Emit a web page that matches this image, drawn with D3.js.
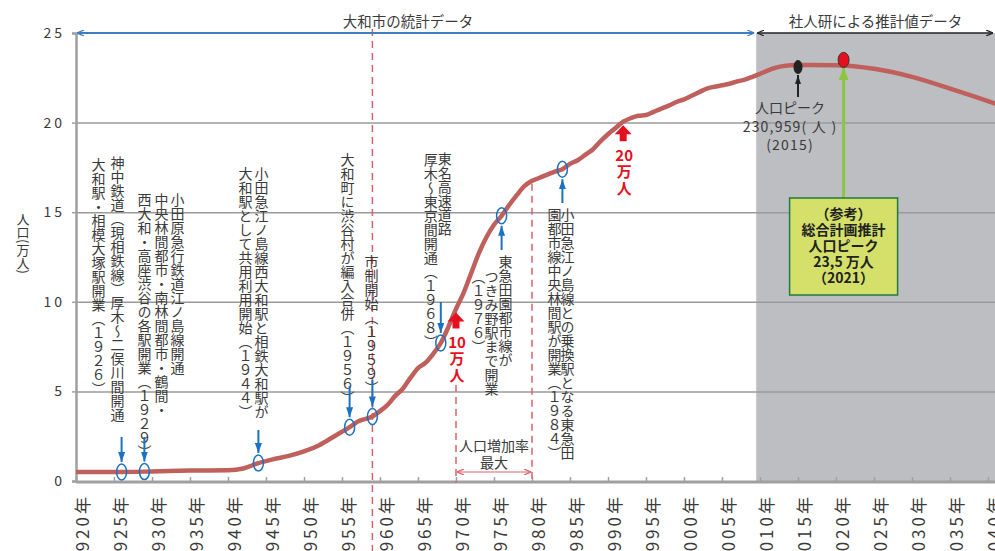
<!DOCTYPE html>
<html>
<head>
<meta charset="utf-8">
<script src="https://cdn.jsdelivr.net/npm/d3@7"></script>
<style>
  html, body { margin: 0; padding: 0; background: #fff; }
  svg { display: block; font-family: "Noto Sans CJK JP", "Noto Sans", sans-serif; }
  .vtext { writing-mode: vertical-rl; text-orientation: mixed; }
</style>
</head>
<body>
<svg id="chart" width="995" height="551"></svg>
<script>
// ---- Population of Yamato city (unit: 10,000 people) ----
const years = [1920, 1925, 1930, 1935, 1940, 1942, 1944, 1946, 1948, 1950, 1952, 1954, 1956, 1957, 1959,
  1960, 1961, 1962, 1963, 1964, 1965, 1966, 1967, 1968, 1969, 1970, 1971, 1972, 1973, 1974, 1975, 1976,
  1977, 1978, 1979, 1980, 1981, 1982, 1983, 1984, 1985, 1986, 1987, 1988, 1989, 1990, 1991, 1992, 1993,
  1994, 1995, 1996, 1997, 1998, 1999, 2000, 2001, 2002, 2003, 2004, 2005, 2006, 2007, 2008, 2009, 2010,
  2011, 2012, 2013, 2014, 2015, 2020, 2025, 2030, 2035, 2040, 2041];
const population = [0.50, 0.50, 0.53, 0.58, 0.60, 0.70, 1.00, 1.22, 1.40, 1.65, 2.00, 2.50, 3.00, 3.30, 3.60,
  3.90, 4.25, 4.75, 5.15, 5.75, 6.30, 6.60, 7.10, 7.70, 8.60, 9.60, 10.50, 11.60, 12.70, 13.60, 14.30, 14.80,
  15.40, 15.95, 16.45, 16.75, 16.92, 17.10, 17.27, 17.40, 17.70, 17.90, 18.20, 18.50, 18.95, 19.35, 19.70, 20.05, 20.25,
  20.38, 20.42, 20.60, 20.78, 20.95, 21.15, 21.30, 21.50, 21.70, 21.90, 22.00, 22.08, 22.17, 22.30, 22.40, 22.55, 22.72,
  22.90, 23.05, 23.15, 23.20, 23.22, 23.20, 23.00, 22.55, 21.90, 21.20, 21.05];

const yTickValues = [0, 5, 10, 15, 20, 25];
const gridValues = [5, 10, 15, 20];
const xTickYears = [1920, 1925, 1930, 1935, 1940, 1945, 1950, 1955, 1960, 1965, 1970, 1975, 1980,
  1985, 1990, 1995, 2000, 2005, 2010, 2015, 2020, 2025, 2030, 2035, 2040];

// Events along the curve (each text column reads top to bottom, columns right to left)
const eventYears = [1926, 1929, 1944, 1956, 1959, 1968, 1976, 1984];
const eventTexts = [
  ["神中鉄道（現相鉄線）厚木〜二俣川間開通", "大和駅・相模大塚駅開業（１９２６）"],
  ["小田原急行鉄道江ノ島線開通", "中央林間都市・南林間都市・鶴間・", "西大和・高座渋谷の各駅開業（１９２９）"],
  ["小田急江ノ島線西大和駅と相鉄大和駅が", "大和駅として共用利用開始（１９４４）"],
  ["大和町に渋谷村が編入合併（１９５６）"],
  ["市制開始（１９５９）"],
  ["東名高速道路", "厚木〜東京間開通（１９６８）"],
  ["東急田園都市線が", "つきみ野駅まで開業", "（１９７６）"],
  ["小田急江ノ島線との乗換駅となる東急田", "園都市線中央林間駅が開業（１９８４）"]
];

const milestoneYears = [1970, 1992];
const milestoneLabels = [["10", "万", "人"], ["20", "万", "人"]];

const peakYear = 2015, peakValue = 23.0959;
const peakLabel = ["人口ピーク", "230,959( 人 )", "(2015)"];
const planPeakYear = 2021, planPeakValue = 23.5;
const planLabel = ["（参考）", "総合計画推計", "人口ピーク", "23,5 万人", "（2021）"];

const cityYear = 1959;
const growthSpan = [1970, 1980];
const growthLabel = ["人口増加率", "最大"];
const projectionStart = 2010;
const headerLabels = ["大和市の統計データ", "社人研による推計値データ"];
const yAxisTitle = "人口(万人)";

// ---- Layout ----
const W = 995, H = 551;
const plotL = 76, plotR = 995, plotT = 33, plotB = 481;
const x = d3.scaleLinear().domain([1920, 2040]).range([plotL, 988]);
const y = d3.scaleLinear().domain([0, 25]).range([plotB, plotT]);

// placement of each event's text columns relative to its circle
const eventLayout = [
  { dx: [-4, -23], top: [156, 158], arrowFrom: 437, below: false },
  { dx: [33, 17, 0], top: [193, 193, 193], arrowFrom: 437, below: false },
  { dx: [3, -13], top: [167, 167], arrowFrom: 430, below: false },
  { dx: [-2], top: [153], arrowFrom: 386, below: false },
  { dx: [-1], top: [255], arrowFrom: 380, below: false },
  { dx: [4, -10], top: [152, 153], arrowFrom: 302, below: false },
  { dx: [4, -10, -23], top: [255, 270, 270], arrowFrom: 250, below: true },
  { dx: [5, -8], top: [208, 208], arrowFrom: 203, below: true }
];

const C = {
  text: "#3a3a3a", grid: "#9a9a9a", axis: "#a0a0a0", curve: "#c0605c",
  blue: "#1b72c0", red: "#e60f1e", dash: "#d8636a", shade: "#bdbec2",
  green: "#8cc63f", boxFill: "#d5e06b", boxStroke: "#1f7a3f"
};

const svg = d3.select("#chart");
const defs = svg.append("defs");
defs.append("clipPath").attr("id", "plotClip")
  .append("rect").attr("x", plotL).attr("y", plotT).attr("width", plotR - plotL).attr("height", plotB - plotT);

function marker(id, color, w, h, open) {
  const m = defs.append("marker").attr("id", id).attr("viewBox", `0 0 ${w} ${h}`)
    .attr("refX", w).attr("refY", h / 2).attr("markerWidth", w).attr("markerHeight", h)
    .attr("markerUnits", "userSpaceOnUse").attr("orient", "auto-start-reverse");
  if (open) {
    m.append("path").attr("d", `M0,0 L${w},${h / 2} L0,${h}`).attr("fill", "none")
      .attr("stroke", color).attr("stroke-width", 1.2);
  } else {
    m.append("path").attr("d", `M0,0 L${w},${h / 2} L0,${h} Z`).attr("fill", color);
  }
}
marker("blueHead", C.blue, 10, 7, false);
marker("blackHead", "#222", 9, 6, false);
marker("greenHead", C.green, 12, 10, false);
marker("topBlue", "#3d7ebf", 7, 6, true);
marker("topBlack", "#222", 7, 6, true);
marker("redOpen", C.dash, 7, 6, true);

const valueAt = (yr) => {
  const i = d3.bisectRight(years, yr);
  if (i <= 0) return population[0];
  if (i >= years.length) return population[population.length - 1];
  const t = (yr - years[i - 1]) / (years[i] - years[i - 1]);
  return population[i - 1] + t * (population[i] - population[i - 1]);
};

// projection period shading
const splitX = x(projectionStart - 0.5);
svg.append("rect")
  .attr("x", splitX).attr("y", plotT)
  .attr("width", plotR - splitX).attr("height", plotB - plotT)
  .attr("fill", C.shade);

// horizontal gridlines
svg.append("g")
  .attr("transform", `translate(${plotL},0)`)
  .call(d3.axisLeft(y).tickValues(gridValues).tickSize(-(plotR - plotL)).tickFormat(""))
  .call(g => g.select(".domain").remove())
  .call(g => g.selectAll("line").attr("stroke", C.grid).attr("stroke-width", 1.5));

// y axis
svg.append("g")
  .attr("transform", `translate(${plotL},0)`)
  .call(d3.axisLeft(y).tickValues(yTickValues).tickSize(4).tickPadding(7))
  .call(g => g.select(".domain").attr("stroke", C.axis).attr("stroke-width", 2.5))
  .call(g => g.selectAll("line").attr("stroke", C.axis).attr("stroke-width", 1.5))
  .call(g => g.selectAll("text").attr("fill", C.text).attr("font-size", 14)
    .attr("letter-spacing", 3).attr("font-family", "'Noto Sans CJK JP', sans-serif"));

// x axis line and ticks
svg.append("line").attr("x1", plotL).attr("x2", plotR).attr("y1", plotB + 1).attr("y2", plotB + 1)
  .attr("stroke", C.axis).attr("stroke-width", 3);
svg.append("g")
  .attr("transform", `translate(0,${plotB + 1})`)
  .call(d3.axisBottom(x).tickValues(xTickYears).tickSizeInner(-5).tickSizeOuter(0).tickFormat(""))
  .call(g => g.select(".domain").remove())
  .call(g => g.selectAll("line").attr("stroke", C.axis).attr("stroke-width", 1.5));

svg.append("g").selectAll("text").data(xTickYears).join("text")
  .attr("transform", d => `translate(${x(d) + 5},494) rotate(-90)`)
  .attr("text-anchor", "end").attr("dominant-baseline", "central")
  .attr("font-size", 17).attr("letter-spacing", 3).attr("fill", C.text)
  .text(d => d + "年");

// y axis title
svg.append("text").attr("class", "vtext")
  .attr("x", 23).attr("y", 213).attr("font-size", 13).attr("fill", C.text)
  .text(yAxisTitle);

// dashed reference lines
const dashed = (x0, y1, y2) => svg.append("line").attr("x1", x0).attr("x2", x0).attr("y1", y1).attr("y2", y2)
  .attr("stroke", C.dash).attr("stroke-width", 1.5).attr("stroke-dasharray", "7,5");
dashed(x(cityYear), 29, H);
dashed(x(growthSpan[0]), 385, plotB + 2);
dashed(x(growthSpan[1]), y(valueAt(growthSpan[1])) + 3, plotB + 2);

// growth-rate span arrow and label
svg.append("line")
  .attr("x1", x(growthSpan[0]) + 1).attr("x2", x(growthSpan[1]) - 1).attr("y1", 472).attr("y2", 472)
  .attr("stroke", C.dash).attr("stroke-width", 1)
  .attr("marker-start", "url(#redOpen)").attr("marker-end", "url(#redOpen)");
growthLabel.forEach((t, i) => {
  svg.append("text").attr("x", (x(growthSpan[0]) + x(growthSpan[1])) / 2).attr("y", 445 + i * 17)
    .attr("text-anchor", "middle").attr("dominant-baseline", "central")
    .attr("font-size", 14).attr("fill", C.text).text(t);
});

// population curve
const line = d3.line().x((d, i) => x(years[i])).y(d => y(d)).curve(d3.curveMonotoneX);
svg.append("path").datum(population)
  .attr("clip-path", "url(#plotClip)")
  .attr("d", line).attr("fill", "none").attr("stroke", C.curve)
  .attr("stroke-width", 4.5).attr("stroke-linecap", "round").attr("stroke-linejoin", "round");

// events: circle on the curve, arrow and vertical text
const RX = 5, RY = 8;
eventYears.forEach((yr, i) => {
  const L = eventLayout[i];
  const cx = x(yr), cy = y(valueAt(yr));
  const g = svg.append("g");
  eventTexts[i].forEach((col, j) => {
    g.append("text").attr("class", "vtext")
      .attr("x", cx + L.dx[j]).attr("y", L.top[j])
      .attr("font-size", 14).attr("fill", C.text).text(col);
  });
  g.append("line").attr("x1", cx).attr("x2", cx)
    .attr("y1", L.arrowFrom).attr("y2", L.below ? cy + RY + 2 : cy - RY - 2)
    .attr("stroke", C.blue).attr("stroke-width", 2).attr("marker-end", "url(#blueHead)");
  g.append("ellipse").attr("cx", cx).attr("cy", cy).attr("rx", RX).attr("ry", RY)
    .attr("fill", "none").attr("stroke", C.blue).attr("stroke-width", 1.5);
});

// population milestones (red block arrows)
milestoneYears.forEach((yr, i) => {
  const cx = x(yr), t = y(valueAt(yr)) + 3.5;
  svg.append("path")
    .attr("d", `M${cx},${t} L${cx + 8.5},${t + 9} L${cx + 3.5},${t + 9} L${cx + 3.5},${t + 16}
                L${cx - 3.5},${t + 16} L${cx - 3.5},${t + 9} L${cx - 8.5},${t + 9} Z`)
    .attr("fill", C.red);
  milestoneLabels[i].forEach((s, j) => {
    svg.append("text").attr("x", cx + 1).attr("y", t + 29 + j * 16.5)
      .attr("text-anchor", "middle").attr("dominant-baseline", "central")
      .attr("font-size", 15).attr("font-weight", "bold").attr("fill", C.red).text(s);
  });
});

// header arrows and labels
svg.append("line").attr("x1", plotL + 1).attr("x2", splitX - 2).attr("y1", plotT).attr("y2", plotT)
  .attr("stroke", "#3d7ebf").attr("stroke-width", 2)
  .attr("marker-start", "url(#topBlue)").attr("marker-end", "url(#topBlue)");
svg.append("line").attr("x1", splitX + 1).attr("x2", plotR - 2).attr("y1", plotT).attr("y2", plotT)
  .attr("stroke", "#222").attr("stroke-width", 1.3)
  .attr("marker-start", "url(#topBlack)").attr("marker-end", "url(#topBlack)");
svg.append("text").attr("x", 408).attr("y", 20).attr("text-anchor", "middle").attr("dominant-baseline", "central")
  .attr("font-size", 14.5).attr("fill", C.text).text(headerLabels[0]);
svg.append("text").attr("x", (splitX + plotR) / 2).attr("y", 20).attr("text-anchor", "middle").attr("dominant-baseline", "central")
  .attr("font-size", 14.5).attr("fill", C.text).text(headerLabels[1]);

// 2015 census peak
const px = x(peakYear), py = y(peakValue);
svg.append("line").attr("x1", px).attr("x2", px).attr("y1", 97).attr("y2", py + 8)
  .attr("stroke", "#222").attr("stroke-width", 2).attr("marker-end", "url(#blackHead)");
svg.append("ellipse").attr("cx", px).attr("cy", py).attr("rx", 4.5).attr("ry", 7).attr("fill", "#222");
peakLabel.forEach((t, i) => {
  svg.append("text").attr("x", px - 8).attr("y", 107 + i * 18.5)
    .attr("text-anchor", "middle").attr("dominant-baseline", "central")
    .attr("font-size", 14).attr("letter-spacing", i === 0 ? 0 : 1.2).attr("fill", C.text).text(t);
});

// comprehensive-plan peak (2021)
const qx = x(planPeakYear), qy = y(planPeakValue);
const boxTop = 198, boxW = 108, boxH = 97;
svg.append("line").attr("x1", qx).attr("x2", qx).attr("y1", boxTop).attr("y2", qy + 8)
  .attr("stroke", C.green).attr("stroke-width", 3).attr("marker-end", "url(#greenHead)");
svg.append("ellipse").attr("cx", qx).attr("cy", qy).attr("rx", 5.5).attr("ry", 7.5)
  .attr("fill", C.red).attr("stroke", "#333").attr("stroke-width", 1);
svg.append("rect").attr("x", qx - boxW / 2).attr("y", boxTop).attr("width", boxW).attr("height", boxH)
  .attr("fill", C.boxFill).attr("stroke", C.boxStroke).attr("stroke-width", 1.5);
planLabel.forEach((t, i) => {
  svg.append("text").attr("x", qx).attr("y", boxTop + 15 + i * 16)
    .attr("text-anchor", "middle").attr("dominant-baseline", "central")
    .attr("font-size", 14).attr("font-weight", "bold").attr("fill", "#222").text(t);
});
</script>
</body>
</html>
